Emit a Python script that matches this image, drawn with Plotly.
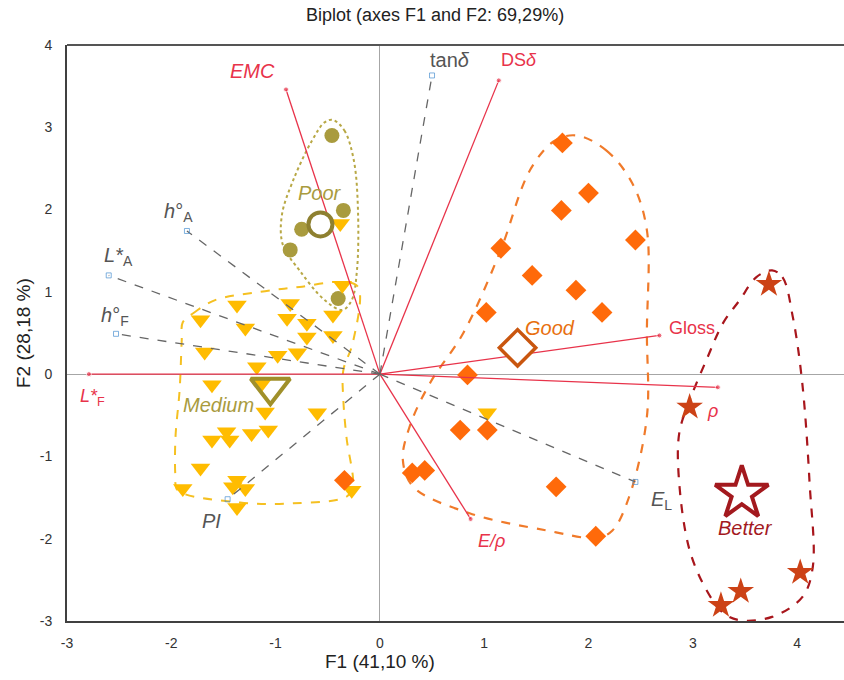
import plotly.graph_objects as go

# ---- variable loadings (F1, F2) ----
active_vars = ["EMC", "DSδ", "L*F", "E/ρ", "Gloss", "ρ"]
active_x = [-0.90, 1.14, -2.79, 0.87, 2.68, 3.24]
active_y = [3.46, 3.57, 0.00, -1.76, 0.47, -0.16]

supp_vars = ["tanδ", "h°A", "L*A", "h°F", "PI", "EL"]
supp_x = [0.50, -1.85, -2.60, -2.53, -1.46, 2.45]
supp_y = [3.63, 1.74, 1.20, 0.49, -1.52, -1.31]

# ---- observations by class ----
poor_x = [-0.46, -0.35, -0.75, -0.86, -0.40]
poor_y = [2.90, 1.99, 1.76, 1.51, 0.92]

medium_x = [-1.37, -0.86, -0.36, -1.72, -0.89, -0.70, -0.45, -1.29, -0.70, -0.45,
            -1.68, -0.98, -0.79, -1.18, -1.61, -1.13, -1.10, -0.60, -1.61, -1.47,
            -1.44, -1.23, -1.07, -1.72, -1.37, -1.41, -1.29, -1.89, -1.37, -0.27,
            1.03, -0.38]
medium_y = [0.84, 0.86, 1.08, 0.66, 0.68, 0.62, 0.72, 0.56, 0.45, 0.47,
            0.27, 0.23, 0.26, 0.09, -0.13, -0.11, -0.46, -0.47, -0.80, -0.70,
            -0.80, -0.72, -0.68, -1.14, -1.29, -1.37, -1.39, -1.39, -1.62, -1.41,
            -0.47, 1.83]

good_x = [1.75, 2.00, 1.74, 2.45, 1.16, 1.46, 1.88, 1.02, 2.13, 0.84,
          0.77, 1.03, 0.31, 0.43, 1.69, 2.07, -0.34]
good_y = [2.81, 2.20, 1.99, 1.63, 1.53, 1.20, 1.02, 0.75, 0.75, -0.01,
          -0.68, -0.68, -1.20, -1.17, -1.37, -1.97, -1.29]

better_x = [3.73, 2.97, 4.03, 3.46, 3.27]
better_y = [1.09, -0.40, -2.41, -2.64, -2.81]

# ---- class centroids ----
centroid_names = ["Poor", "Medium", "Good", "Better"]
centroid_x = [-0.57, -1.05, 1.32, 3.47]
centroid_y = [1.82, -0.16, 0.32, -1.45]

# ---- class envelopes ----
poor_hull_x = [-0.45, -0.34, -0.25, -0.21, -0.22, -0.27, -0.36, -0.53, -0.77, -0.93, -0.94, -0.83, -0.65, -0.53]
poor_hull_y = [3.09, 2.96, 2.60, 1.99, 1.26, 0.90, 0.78, 0.90, 1.26, 1.57, 1.93, 2.36, 2.84, 3.06]

medium_hull_x = [-1.89, -1.79, -1.58, -1.15, -0.77, -0.38, -0.21, -0.26, -0.35, -0.35,
                 -0.32, -0.26, -0.32, -0.83, -1.34, -1.94, -1.96, -1.96, -1.92, -1.90]
medium_hull_y = [0.63, 0.74, 0.90, 1.00, 1.06, 1.12, 1.06, 0.38, 0.05, -0.32,
                 -0.77, -1.37, -1.49, -1.57, -1.56, -1.41, -1.25, -0.77, -0.19, 0.41]

good_hull_x = [1.89, 2.17, 2.42, 2.56, 2.56, 2.56, 2.39, 2.23, 2.08, 1.60,
               0.86, 0.32, 0.22, 0.29, 0.48, 0.80, 1.15, 1.44, 1.68]
good_hull_y = [2.90, 2.72, 2.32, 1.75, 0.50, -0.52, -1.49, -1.90, -1.99, -1.90,
               -1.69, -1.37, -1.04, -0.62, -0.11, 0.50, 1.48, 2.48, 2.84]

better_hull_x = [3.76, 3.86, 3.96, 4.05, 4.12, 4.15, 4.05, 3.76, 3.45, 3.29,
                 3.13, 2.97, 2.87, 2.87, 2.97, 3.13, 3.29, 3.45, 3.61]
better_hull_y = [1.26, 1.18, 0.69, -0.11, -1.32, -2.35, -2.71, -2.95, -2.99, -2.90,
                 -2.62, -2.14, -1.32, -0.72, -0.32, 0.17, 0.62, 0.90, 1.18]

# ---- axis ticks ----
tick_vals = [-3, -2, -1, 0, 1, 2, 3, 4]
tick_text = ["-3", "-2", "-1", "0", "1", "2", "3", "4"]

# ---- label placement (data units) ----
active_labels = ["<i>EMC</i>", "DS<i>δ</i>", "<i>L*</i><sub>F</sub>", "<i>E/ρ</i>", "Gloss", "<i>ρ</i>"]
active_lab_x = [-1.22, 1.33, -2.76, 1.07, 2.99, 3.19]
active_lab_y = [3.69, 3.82, -0.28, -2.03, 0.56, -0.45]

supp_labels = ["tan<i>δ</i>", "<i>h</i>°<sub>A</sub>", "<i>L*</i><sub>A</sub>", "<i>h</i>°<sub>F</sub>", "<i>PI</i>", "<i>E</i><sub>L</sub>"]
supp_lab_x = [0.67, -1.93, -2.51, -2.54, -1.61, 2.70]
supp_lab_y = [3.82, 1.97, 1.43, 0.70, -1.78, -1.53]

group_lab_x = [-0.57, -1.55, 1.63, 3.51]
group_lab_y = [2.20, -0.38, 0.56, -1.87]

RED = "#E8334A"
GREY = "#666666"
OLIVE = "#A99B3E"
OLIVE_DARK = "#A0902A"
YELLOW = "#FFBC00"
ORANGE = "#FF6A0A"
ORANGE_DARK = "#C9560F"
STAR = "#CC4216"
DARKRED = "#A3191E"

fig = go.Figure()


def closed(xs, ys):
    return list(xs) + [xs[0]], list(ys) + [ys[0]]


# envelopes
for hx, hy, col, dash, w in [
    (poor_hull_x, poor_hull_y, "#B8A845", "dot", 2),
    (medium_hull_x, medium_hull_y, "#F5C021", "dash", 2),
    (good_hull_x, good_hull_y, "#F07A2A", "dash", 2.2),
    (better_hull_x, better_hull_y, "#A8161C", "dash", 2.2),
]:
    cx, cy = closed(hx, hy)
    fig.add_trace(go.Scatter(x=cx, y=cy, mode="lines",
                             line=dict(color=col, dash=dash, width=w, shape="spline", smoothing=1.0),
                             hoverinfo="skip"))

# observations
fig.add_trace(go.Scatter(x=poor_x, y=poor_y, mode="markers",
                         marker=dict(symbol="circle", size=15, color=OLIVE)))
fig.add_trace(go.Scatter(x=medium_x, y=medium_y, mode="markers",
                         marker=dict(symbol="triangle-down", size=17, color=YELLOW)))
fig.add_trace(go.Scatter(x=good_x, y=good_y, mode="markers",
                         marker=dict(symbol="diamond", size=16, color=ORANGE)))
fig.add_trace(go.Scatter(x=better_x, y=better_y, mode="markers",
                         marker=dict(symbol="star", size=20, color=STAR)))

# variable vectors
for vx, vy in zip(active_x, active_y):
    fig.add_trace(go.Scatter(x=[0, vx], y=[0, vy], mode="lines+markers",
                             line=dict(color=RED, width=1.3),
                             marker=dict(size=[0, 5], color=RED)))
for vx, vy in zip(supp_x, supp_y):
    fig.add_trace(go.Scatter(x=[0, vx], y=[0, vy], mode="lines+markers",
                             line=dict(color=GREY, width=1.3, dash="dash"),
                             marker=dict(size=[0, 5], symbol="square-open",
                                         color="#4A90D0", line=dict(width=1))))

# centroids
cent_style = [
    dict(symbol="circle", size=24, color="white", line=dict(color="#8E8030", width=4)),
    dict(symbol="triangle-down", size=34, color="rgba(255,255,255,0)", line=dict(color=OLIVE_DARK, width=4)),
    dict(symbol="diamond", size=28, color="white", line=dict(color=ORANGE_DARK, width=3.5)),
    dict(symbol="star", size=40, color="white", line=dict(color=DARKRED, width=4)),
]
for i in range(4):
    fig.add_trace(go.Scatter(x=[centroid_x[i]], y=[centroid_y[i]], mode="markers",
                             marker=cent_style[i]))

ann = []
for t, x, y in zip(active_labels, active_lab_x, active_lab_y):
    sz = 20 if t == "<i>EMC</i>" else 18
    ann.append(dict(x=x, y=y, text=t, showarrow=False,
                    font=dict(size=sz, color=RED, family="Liberation Sans")))
for t, x, y in zip(supp_labels, supp_lab_x, supp_lab_y):
    ann.append(dict(x=x, y=y, text=t, showarrow=False,
                    font=dict(size=20, color="#555555", family="Liberation Sans")))
group_cols = ["#A99B3E", "#A99B3E", "#E8700F", DARKRED]
for name, x, y, c in zip(centroid_names, group_lab_x, group_lab_y, group_cols):
    ann.append(dict(x=x, y=y, text="<i>" + name + "</i>", showarrow=False,
                    font=dict(size=20, color=c, family="Liberation Sans")))

# chart title and axis titles
ann.append(dict(x=(435 - 67) / 777, y=1 + (45 - 15) / 576, xref="paper", yref="paper",
                xanchor="center", yanchor="middle", text="Biplot (axes F1 and F2: 69,29%)",
                showarrow=False, font=dict(size=18, color="#222222", family="Liberation Sans")))
ann.append(dict(x=0, y=-(661 - 621) / 576, xref="x", yref="paper",
                xanchor="center", yanchor="middle", text="F1 (41,10 %)",
                showarrow=False, font=dict(size=19, color="#222222", family="Liberation Sans")))
ann.append(dict(x=-(67 - 23) / 777, y=0.5, xref="paper", yref="paper", textangle=-90,
                xanchor="center", yanchor="middle", text="F2 (28,18 %)",
                showarrow=False, font=dict(size=19, color="#222222", family="Liberation Sans")))

fig.update_layout(
    width=844, height=680,
    margin=dict(l=67, r=0, t=45, b=59),
    paper_bgcolor="white", plot_bgcolor="white",
    showlegend=False,
    annotations=ann,
    font=dict(family="Liberation Sans Narrow, Liberation Sans", color="#333333"),
    xaxis=dict(range=[-3, 4.45], tickvals=tick_vals, ticktext=tick_text, showgrid=False,
               zeroline=True, zerolinecolor="#A6A6A6", zerolinewidth=1.3,
               showline=True, linecolor="#404040", linewidth=2, ticks="",
               tickfont=dict(size=14, color="#333333"), ticklabelstandoff=8),
    yaxis=dict(range=[-3, 4], tickvals=tick_vals, ticktext=tick_text, showgrid=False,
               zeroline=True, zerolinecolor="#A6A6A6", zerolinewidth=1.3,
               showline=True, linecolor="#404040", linewidth=2, ticks="",
               tickfont=dict(size=14, color="#333333"), ticklabelstandoff=10),
    shapes=[dict(type="line", xref="paper", yref="paper", x0=0, x1=1, y0=1, y1=1,
                 line=dict(color="#555555", width=2))],
)

fig.write_html("out.html")
